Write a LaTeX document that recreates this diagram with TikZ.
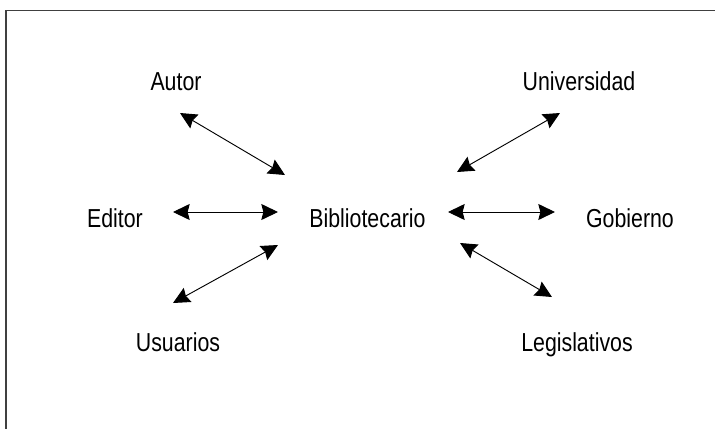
\documentclass[tikz,border=0pt]{standalone}
\usepackage{fontspec}
\setmainfont{Liberation Sans}[FakeStretch=0.82]
\usetikzlibrary{arrows.meta}

\tikzset{
    actor/.style={inner sep=0pt, anchor=base, font=\fontsize{19.5pt}{22pt}\selectfont},
    link/.style={line width=0.7pt, {Stealth[length=12.5pt, width=12pt, inset=1.5pt]}-{Stealth[length=12.5pt, width=12pt, inset=1.5pt]}}
}

\begin{document}
\begin{tikzpicture}[x=0.75pt, y=-0.75pt]
    \useasboundingbox (0,0) rectangle (715,429);
    % frame
    \draw[line width=1.1pt, black!75] (6,429) -- (6,10.5) -- (715,10.5);

    \foreach \name/\txt/\x/\y in {
        biblio/Bibliotecario/367.5/227, autor/Autor/176/90.7, univ/Universidad/579/90.7,
        editor/Editor/115/227, gob/Gobierno/630/227,
        usuarios/Usuarios/178/351, legis/Legislativos/577/351
    } {
        \node[actor] (\name) at (\x,\y) {\txt};
    }

    \foreach \name/\ax/\ay/\bx/\by in {
        autor/180/113/285/175, univ/560/113/457/172,
        editor/173/212/278/212, gob/555/212/448/212,
        usuarios/173/303/278/245, legis/552/297/460/243
    } {
        \coordinate (\name-a) at (\ax,\ay);
        \coordinate (\name-b) at (\bx,\by);
        \draw[link] (\name-a) -- (\name-b);
    }
\end{tikzpicture}
\end{document}
